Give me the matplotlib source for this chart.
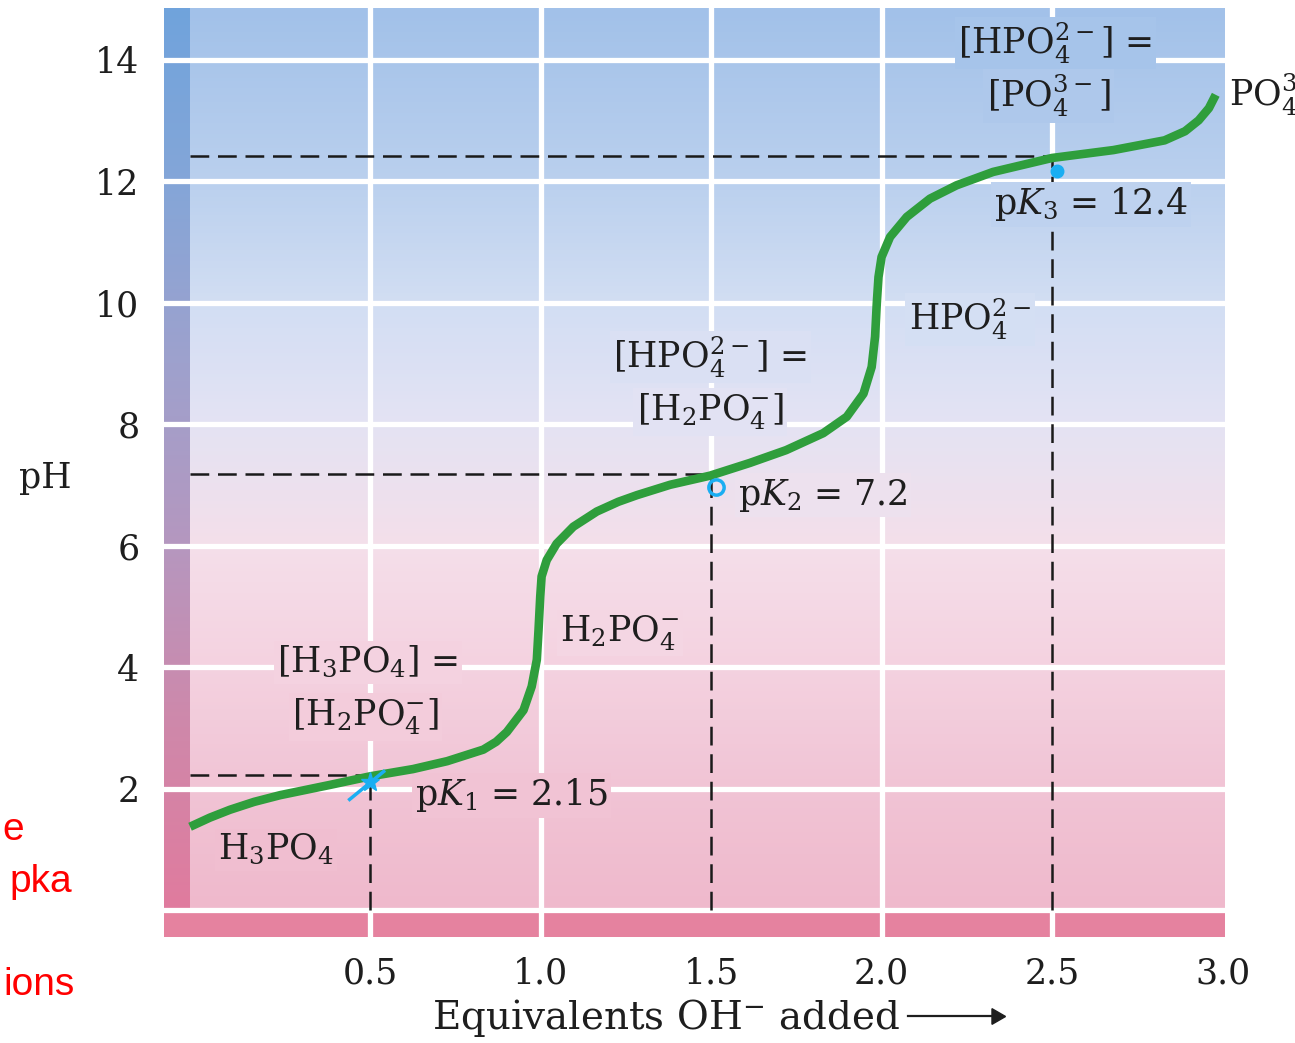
import numpy as np
import matplotlib.pyplot as plt
from matplotlib.colors import LinearSegmentedColormap

plt.rcParams['font.family'] = 'DejaVu Serif'
plt.rcParams['mathtext.fontset'] = 'dejavuserif'

# titration curve
eq_added = [-0.028, 0.03, 0.089, 0.16, 0.236, 0.383, 0.5, 0.626, 0.726, 0.832,
            0.87, 0.901, 0.950, 0.974, 0.989, 0.994, 0.999, 1.003, 1.018, 1.047,
            1.096, 1.165, 1.228, 1.283, 1.38, 1.497, 1.614, 1.72, 1.829, 1.898,
            1.947, 1.971, 1.981, 1.986, 1.991, 2.000, 2.025, 2.074, 2.142, 2.220,
            2.327, 2.5, 2.68, 2.83, 2.89, 2.93, 2.96, 2.98]
ph_values = [1.37, 1.52, 1.65, 1.78, 1.89, 2.06, 2.2, 2.32, 2.45, 2.64,
             2.77, 2.93, 3.29, 3.68, 4.12, 4.61, 5.16, 5.49, 5.76, 6.03,
             6.31, 6.56, 6.72, 6.83, 7.0, 7.15, 7.36, 7.57, 7.85, 8.12,
             8.50, 8.94, 9.44, 9.99, 10.42, 10.75, 11.08, 11.41, 11.71, 11.93,
             12.15, 12.38, 12.51, 12.67, 12.82, 13.0, 13.2, 13.42]

pka_x = [0.5, 1.5, 2.5]
pka_y = [2.22, 7.18, 12.41]

x_ticks = [0.5, 1.0, 1.5, 2.0, 2.5, 3.0]
x_tick_labels = ['0.5', '1.0', '1.5', '2.0', '2.5', '3.0']
y_ticks = [2, 4, 6, 8, 10, 12, 14]
y_tick_labels = ['2', '4', '6', '8', '10', '12', '14']

label_texts = [r'[HPO$_4^{2-}$] =', r'[PO$_4^{3-}$]', r'p$K_3$ = 12.4', r'HPO$_4^{2-}$',
               r'[HPO$_4^{2-}$] =', r'[H$_2$PO$_4^{-}$]', r'p$K_2$ = 7.2', r'H$_2$PO$_4^{-}$',
               r'[H$_3$PO$_4$] =', r'[H$_2$PO$_4^{-}$]', r'p$K_1$ = 2.15', r'H$_3$PO$_4$']
label_x = [2.51, 2.49, 2.33, 2.08, 1.497, 1.497, 1.58, 1.057, 0.494, 0.486, 0.632, 0.055]
label_y = [14.27, 13.40, 11.62, 9.72, 9.10, 8.20, 6.83, 4.56, 4.08, 3.18, 1.89, 0.99]
label_ha = ['center', 'center', 'left', 'left', 'center', 'center', 'left', 'left',
            'center', 'center', 'left', 'left']

# background colour stops (pH, colour)
bg_stops = [(0, '#efb9cc'), (2, '#f1c4d5'), (4, '#f4d2e0'), (6, '#f4dfea'),
            (8, '#e4e3f3'), (10, '#d2def3'), (12, '#bad0ee'), (14.85, '#a2c1e9')]
strip_stops = [(0, '#e07b9e'), (3, '#cf88aa'), (6, '#b597bf'), (9, '#9ea1cd'),
               (12, '#84a6d8'), (14.85, '#70a3dc')]

XMIN, XMAX = -0.103, 3.007
YMIN, YMAX = -0.44, 14.85
STRIP_R = -0.028
TXT = '#1e1e1e'


def make_cmap(stops):
    return LinearSegmentedColormap.from_list(
        'g', [(v / YMAX, c) for v, c in stops])


bg_cmap = make_cmap(bg_stops)
strip_cmap = make_cmap(strip_stops)

fig = plt.figure(figsize=(12.95, 10.43), dpi=100)
ax = fig.add_axes([0.127, 0.1019, 0.8189, 0.8905])
ax.set_xlim(XMIN, XMAX)
ax.set_ylim(YMIN, YMAX)
for s in ax.spines.values():
    s.set_visible(False)

grad = np.linspace(0, 1, 256).reshape(-1, 1)
ax.imshow(grad, cmap=bg_cmap, extent=[STRIP_R, XMAX, 0, YMAX], origin='lower',
          aspect='auto', zorder=0)
ax.imshow(grad, cmap=strip_cmap, extent=[XMIN, STRIP_R, 0, YMAX], origin='lower',
          aspect='auto', zorder=0)
ax.fill_between([XMIN, XMAX], YMIN, 0, color='#e5829f', lw=0, zorder=0)

# white grid
gw = 3.8
for y in [0] + y_ticks:
    ax.plot([XMIN, XMAX], [y, y], color='white', lw=gw, zorder=1)
for x in [1.0, 2.0]:
    ax.plot([x, x], [YMIN, YMAX], color='white', lw=gw, zorder=1)
for x, y in zip(pka_x, pka_y):
    ax.plot([x, x], [y, YMAX], color='white', lw=gw, zorder=1)
for x in [0.5, 2.5]:
    ax.plot([x, x], [YMIN, 0], color='white', lw=gw, zorder=1)

# dashed guides
for x, y in zip(pka_x, pka_y):
    ax.plot([STRIP_R, x], [y, y], color='#1a1a1a', lw=1.8, ls=(0, (7.5, 3.5)), zorder=2)
    ax.plot([x, x], [0, y], color='#1a1a1a', lw=1.8, ls=(0, (7.5, 3.5)), zorder=2)

for t, x, y, ha in zip(label_texts, label_x, label_y, label_ha):
    bgc = bg_cmap(y / YMAX)
    ax.text(x, y, t, ha=ha, va='center', fontsize=25, color=TXT, zorder=3,
            bbox=dict(boxstyle='square,pad=0.1', fc=bgc, ec='none'))
ax.text(3.02, 13.42, r'PO$_4^{3-}$', ha='left', va='center', fontsize=25,
        color=TXT, clip_on=False)

ax.plot(eq_added, ph_values, color='#2f9e3c', lw=6.2, solid_capstyle='butt',
        solid_joinstyle='round', zorder=4)

# blue pen marks
ink = '#1aaef2'
ax.plot([0.44, 0.54], [1.82, 2.28], color=ink, lw=2.5, zorder=5)
ax.plot(pka_x[0], pka_y[0] - 0.12, marker='*', ms=14, color=ink, zorder=5)
ax.plot(pka_x[1] + 0.015, pka_y[1] - 0.22, marker='o', ms=11, mfc='none', mec=ink,
        mew=2.5, zorder=5)
ax.plot(pka_x[2] + 0.015, pka_y[2] - 0.25, marker='o', ms=9, color=ink, zorder=5)

ax.set_xticks(x_ticks)
ax.set_xticklabels(x_tick_labels)
ax.set_yticks(y_ticks)
ax.set_yticklabels(y_tick_labels)
ax.tick_params(axis='both', length=0, labelsize=25, colors=TXT)
ax.tick_params(axis='y', pad=18)
ax.tick_params(axis='x', pad=14)

fig.text(45 / 1295, 1 - 478 / 1043, 'pH', ha='center', va='center', fontsize=25,
         color=TXT)
fig.text(900 / 1295, 1 - 1018 / 1043, r'Equivalents OH$^{-}$ added',
         ha='right', va='center', fontsize=28, color=TXT)
fig.add_artist(plt.Line2D([908 / 1295, 992 / 1295], [1 - 1016 / 1043] * 2,
                          color=TXT, lw=1.6))
fig.add_artist(plt.Line2D([996 / 1295], [1 - 1016 / 1043], marker=(3, 0, -90),
                          ms=13, color=TXT, lw=0))

# cut-off slide text on the left
red_texts = ['e', 'pka', 'ions']
red_right = [24, 72, 75]
red_y = [830, 882, 985]
for t, x, y in zip(red_texts, red_right, red_y):
    fig.text(x / 1295, 1 - y / 1043, t, ha='right', va='center', fontsize=28,
             color='#ff0000', family='Liberation Sans')

fig.savefig('out.png', dpi=100)
